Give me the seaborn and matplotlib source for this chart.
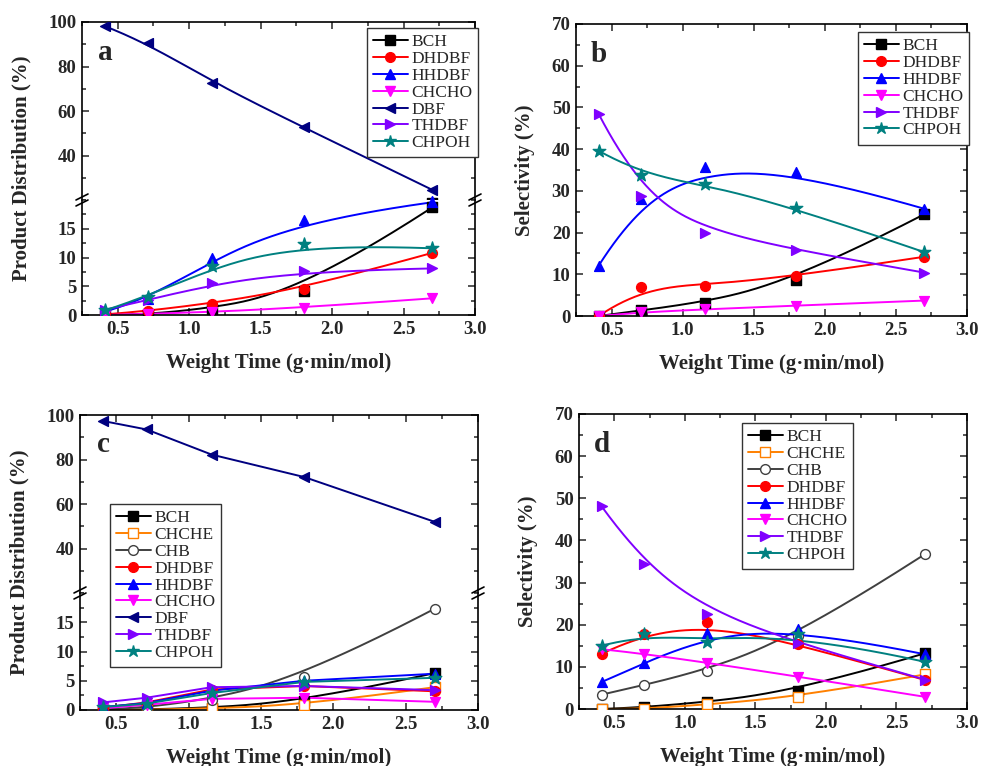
import numpy as np
import matplotlib
matplotlib.use("Agg")
import matplotlib.pyplot as plt
import seaborn as sns
from matplotlib.lines import Line2D
from matplotlib.ticker import MultipleLocator, FormatStrFormatter

sns.set_style("ticks")
plt.rcParams['font.family'] = ['Liberation Serif', 'DejaVu Serif']
plt.rcParams['font.weight'] = 'bold'
plt.rcParams['axes.labelweight'] = 'bold'
plt.rcParams['axes.linewidth'] = 1.2

# weight time (g·min/mol)
weight_time = [0.41, 0.71, 1.16, 1.80, 2.70]

# panel a - product distribution (%)
a_bch = [0.0, 0.1, 1.0, 4.2, 18.7]
a_dhdbf = [0.1, 0.7, 2.0, 4.6, 10.8]
a_hhdbf = [0.6, 2.7, 9.9, 16.5, 19.6]
a_chcho = [0.0, 0.2, 0.5, 1.3, 2.9]
a_dbf = [98.1, 90.6, 72.4, 52.7, 24.6]
a_thdbf = [0.9, 2.6, 5.5, 7.6, 8.1]
a_chpoh = [0.8, 3.2, 8.6, 12.4, 11.6]

# panel b - selectivity (%)
b_bch = [0.0, 1.4, 3.0, 8.6, 24.4]
b_dhdbf = [0.0, 6.9, 7.3, 9.6, 14.2]
b_hhdbf = [12.1, 28.1, 35.6, 34.5, 25.7]
b_chcho = [0.0, 0.9, 1.6, 2.5, 3.7]
b_thdbf = [48.4, 28.8, 20.0, 15.8, 10.4]
b_chpoh = [39.6, 33.9, 31.7, 25.8, 15.3]

# panel c - product distribution (%)
c_bch = [0.0, 0.1, 0.3, 1.5, 6.3]
c_chche = [0.0, 0.0, 0.3, 0.8, 3.9]
c_chb = [0.1, 0.4, 1.7, 5.7, 17.3]
c_dhdbf = [0.4, 1.3, 3.5, 4.1, 3.2]
c_hhdbf = [0.5, 1.2, 3.3, 5.0, 6.2]
c_chcho = [0.3, 0.9, 1.9, 2.1, 1.4]
c_dbf = [97.3, 93.5, 82.2, 72.1, 52.0]
c_thdbf = [1.3, 2.1, 3.9, 4.1, 3.4]
c_chpoh = [0.5, 1.1, 2.9, 4.8, 5.5]

# panel d - selectivity (%)
d_bch = [0.0, 0.4, 1.6, 4.3, 13.2]
d_chche = [0.0, 0.0, 1.1, 2.8, 8.2]
d_chb = [3.4, 5.7, 9.0, 17.3, 36.7]
d_dhdbf = [13.1, 17.8, 20.7, 15.4, 6.9]
d_hhdbf = [6.4, 10.8, 18.1, 19.0, 13.0]
d_chcho = [14.2, 13.1, 11.0, 7.7, 2.9]
d_thdbf = [48.1, 34.3, 22.6, 15.6, 7.0]
d_chpoh = [15.0, 17.7, 15.8, 17.8, 11.2]

styles = {
    'BCH': ('black', 's', 'black'),
    'CHCHE': ('#FF8000', 's', 'white'),
    'CHB': ('#404040', 'o', 'white'),
    'DHDBF': ('red', 'o', 'red'),
    'HHDBF': ('blue', '^', 'blue'),
    'CHCHO': ('#FF00FF', 'v', '#FF00FF'),
    'DBF': ('#000080', '<', '#000080'),
    'THDBF': ('#8000FF', '>', '#8000FF'),
    'CHPOH': ('#008080', '*', '#008080'),
}

W, H = 982, 766
fig = plt.figure(figsize=(9.82, 7.66), dpi=100)


def bspline(px, py, n=200, k=3):
    # clamped cubic B-spline with the data points as control points
    px, py = np.asarray(px, float), np.asarray(py, float)
    m = len(px)
    t = np.concatenate([np.zeros(k), np.linspace(0, 1, m - k + 1), np.ones(k)])
    u = np.linspace(0, 1 - 1e-9, n)

    def basis(i, d):
        if d == 0:
            return ((t[i] <= u) & (u < t[i + 1])).astype(float)
        a = 0 if t[i + d] == t[i] else (u - t[i]) / (t[i + d] - t[i]) * basis(i, d - 1)
        b = 0 if t[i + d + 1] == t[i + 1] else (t[i + d + 1] - u) / (t[i + d + 1] - t[i + 1]) * basis(i + 1, d - 1)
        return a + b

    B = np.array([basis(i, k) for i in range(m)])
    return B.T @ px, B.T @ py


def style_axis(ax):
    ax.tick_params(direction='in', which='both', top=True, right=True,
                   labelsize=13.5, width=1.1, pad=4)
    ax.tick_params(which='major', length=5)
    ax.tick_params(which='minor', length=3)
    ax.set_xlim(0.25, 3.0)
    ax.xaxis.set_major_locator(MultipleLocator(0.5))
    ax.xaxis.set_minor_locator(MultipleLocator(0.25))
    ax.xaxis.set_major_formatter(FormatStrFormatter('%.1f'))
    for s in ax.spines.values():
        s.set_color('black')


def draw(ax, name, y, smooth=True):
    color, marker, face = styles[name]
    xs, ys = bspline(weight_time, y) if smooth else (weight_time, y)
    sns.lineplot(x=xs, y=ys, ax=ax, color=color, lw=1.4, sort=False, estimator=None)
    size = 90 if marker == '*' else 50
    sns.scatterplot(x=weight_time, y=y, ax=ax, color=face, edgecolor=color,
                    marker=marker, s=size, linewidth=1.0, zorder=3)


def slash(x, y):
    for dy in (-3, 3):
        fig.add_artist(Line2D([(x - 6) / W, (x + 6) / W],
                              [1 - (y + dy + 3) / H, 1 - (y + dy - 3) / H],
                              color='black', lw=1.2, transform=fig.transFigure))


def panel(box, series, ylabel, letter, legend_pos, smooth_set=None, brk=None):
    left, right, top, bottom = box
    fx, fw = left / W, (right - left) / W
    if brk is None:
        ax = fig.add_axes([fx, 1 - bottom / H, fw, (bottom - top) / H])
        style_axis(ax)
        ax.set_ylim(0, 70)
        ax.yaxis.set_major_locator(MultipleLocator(10))
        ax.yaxis.set_minor_locator(MultipleLocator(5))
        axes = [ax]
        low = ax
    else:
        up = fig.add_axes([fx, 1 - brk / H, fw, (brk - top) / H])
        low = fig.add_axes([fx, 1 - bottom / H, fw, (bottom - brk) / H])
        for a in (up, low):
            style_axis(a)
        up.set_ylim(20, 100)
        up.yaxis.set_minor_locator(MultipleLocator(10))
        up.set_yticks([40, 60, 80, 100])
        up.spines['bottom'].set_visible(False)
        up.tick_params(which='both', bottom=False, labelbottom=False)
        low.set_ylim(0, 20)
        low.set_yticks([0, 5, 10, 15])
        low.yaxis.set_minor_locator(MultipleLocator(2.5))
        low.spines['top'].set_visible(False)
        low.tick_params(which='both', top=False)
        axes = [up, low]
        slash(left, brk)
        slash(right, brk)

    handles = []
    for name, y in series:
        smooth = smooth_set is None or name in smooth_set
        for a in axes:
            draw(a, name, y, smooth)
        color, marker, face = styles[name]
        handles.append(Line2D([], [], color=color, marker=marker, mfc=face, mec=color,
                              markersize=9 if marker == '*' else 7, lw=1.4))
    for a in axes:
        a.set_ylabel('')
        a.set_xlabel('')
    low.set_xlabel('Weight Time (g\u00b7min/mol)', fontsize=15, fontweight='bold', labelpad=11)
    fig.text(left / W - (0.062 if brk else 0.052), 1 - (top + bottom) / 2 / H,
             ylabel, rotation=90, fontsize=15, ha='center', va='center')
    fig.text((left + 23) / W, 1 - (top + 30) / H, letter,
             fontsize=21, ha='center', va='center')
    fig.legend(handles, [n for n, _ in series], loc='upper left',
               bbox_to_anchor=(legend_pos[0] / W, 1 - legend_pos[1] / H),
               prop={'weight': 'normal', 'size': 12.5}, frameon=True, fancybox=False,
               edgecolor='#333333', framealpha=1, handlelength=2.0, handletextpad=0.2,
               labelspacing=0.04, borderpad=0.35, borderaxespad=0)


panel((82, 475, 22, 315),
      [('BCH', a_bch), ('DHDBF', a_dhdbf), ('HHDBF', a_hhdbf), ('CHCHO', a_chcho),
       ('DBF', a_dbf), ('THDBF', a_thdbf), ('CHPOH', a_chpoh)],
      'Product Distribution (%)', 'a', (367, 28), brk=200)

panel((576, 967, 24, 316),
      [('BCH', b_bch), ('DHDBF', b_dhdbf), ('HHDBF', b_hhdbf), ('CHCHO', b_chcho),
       ('THDBF', b_thdbf), ('CHPOH', b_chpoh)],
      'Selectivity (%)', 'b', (858, 32))

panel((80, 478, 415, 710),
      [('BCH', c_bch), ('CHCHE', c_chche), ('CHB', c_chb), ('DHDBF', c_dhdbf),
       ('HHDBF', c_hhdbf), ('CHCHO', c_chcho), ('DBF', c_dbf), ('THDBF', c_thdbf),
       ('CHPOH', c_chpoh)],
      'Product Distribution (%)', 'c', (110, 504),
      smooth_set={'BCH', 'CHCHE', 'CHB'}, brk=593)

panel((579, 967, 414, 709),
      [('BCH', d_bch), ('CHCHE', d_chche), ('CHB', d_chb), ('DHDBF', d_dhdbf),
       ('HHDBF', d_hhdbf), ('CHCHO', d_chcho), ('THDBF', d_thdbf), ('CHPOH', d_chpoh)],
      'Selectivity (%)', 'd', (742, 423))

fig.savefig('out.png', dpi=100)
